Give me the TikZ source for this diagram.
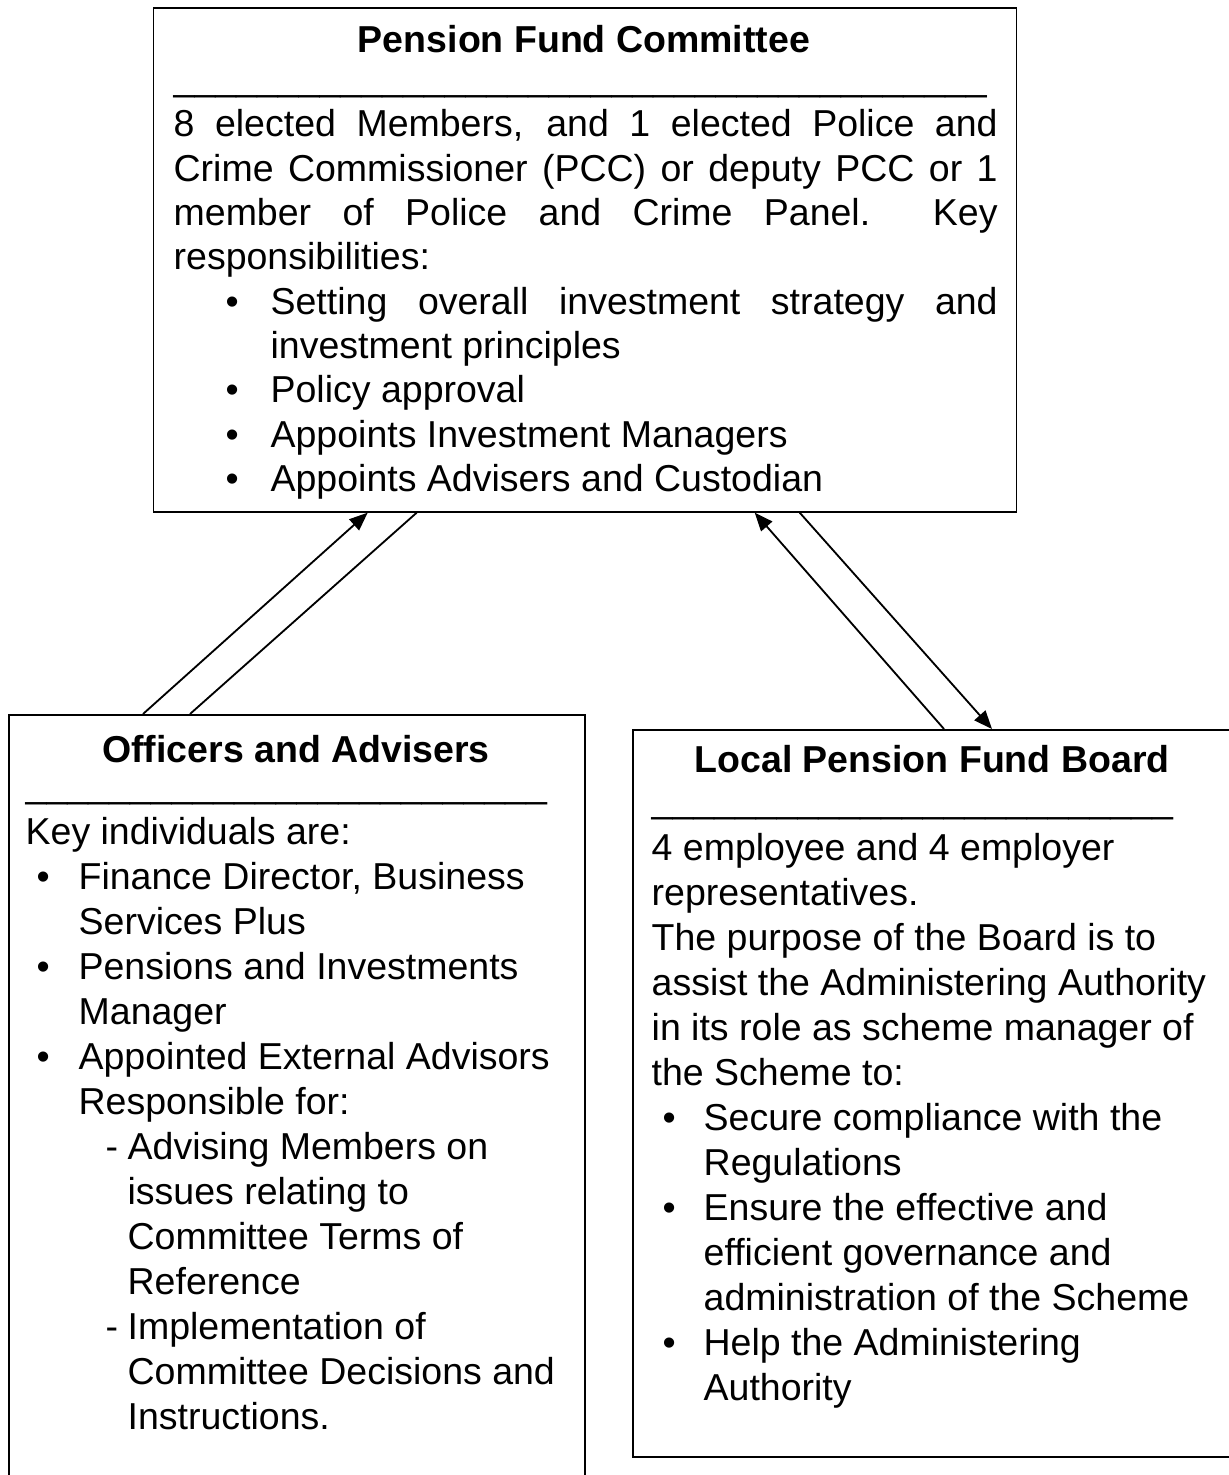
\documentclass[tikz,border=0pt]{standalone}
\usepackage{fontspec}
\setmainfont{Liberation Sans}
\usetikzlibrary{arrows.meta}
\newlength{\px}
\setlength{\px}{0.3pt}
\newcommand{\bars}[1]{\foreach \i in {1,...,#1}{\_}}
\newcommand{\blt}[2]{\hspace*{#1}\makebox[#2][l]{\textbullet}}
\newcommand{\dsh}{\hspace*{80\px}\makebox[22\px][l]{-}}
\newcommand{\fitline}[2]{\makebox[#1][s]{#2}}
\newcommand{\plainsp}{\spaceskip=0pt\xspaceskip=0pt}
\begin{document}
\begin{tikzpicture}[x=0.3pt,y=-0.3pt,
	box/.style={draw,line width=0.5pt,anchor=north west,inner sep=0pt},
	head/.style={anchor=base,inner sep=0pt,font=\fontsize{11.25}{13.5}\selectfont\bfseries},
	body/.style={anchor=base west,inner sep=0pt,align=left,font=\fontsize{11.25}{13.5}\selectfont},
	tight/.style={body,font=\fontsize{11.25}{13.3}\selectfont},
	link/.style={line width=0.55pt},
	tip/.style={-{Triangle[length=5.5pt,width=4.4pt]}}]
	\useasboundingbox (0,0) rectangle (1228,1475);
	
	\node[box,minimum width=863\px,minimum height=504\px] (pfc) at (152.7,7) {};
	\node[box,minimum width=576\px,minimum height=780\px] (oa) at (8,714) {};
	\node[box,minimum width=600\px,minimum height=727\px] (lpfb) at (632,729) {};
	
	\node[head] (pfct) at (584,53) {Pension Fund Committee};
	\node[body] (pfcu) at (173,91) {\bars{39}};
	\node[tight,text width=840\px] (pfcb) at (173,137) {\plainsp
		\fitline{824\px}{8 elected Members, and 1 elected Police and}\\
		\fitline{824\px}{Crime Commissioner (PCC) or deputy PCC or 1}\\
		\fitline{824\px}{member of Police and Crime Panel.\ \ Key}\\
		responsibilities:\\
		\blt{52\px}{45\px}\fitline{727\px}{Setting overall investment strategy and}\\
		\hspace*{97\px}investment principles\\
		\blt{52\px}{45\px}Policy approval\\
		\blt{52\px}{45\px}Appoints Investment Managers\\
		\blt{52\px}{45\px}Appoints Advisers and Custodian};
	
	\node[head] (oat) at (296,762) {Officers and Advisers};
	\node[body] (oau) at (25,797) {\bars{25}};
	\node[body,text width=560\px] (oab) at (25,844) {\plainsp
		Key individuals are:\\
		\blt{11\px}{42\px}Finance Director, Business\\
		\hspace*{53\px}Services Plus\\
		\blt{11\px}{42\px}Pensions and Investments\\
		\hspace*{53\px}Manager\\
		\blt{11\px}{42\px}Appointed External Advisors\\
		\hspace*{53\px}Responsible for:\\
		\dsh Advising Members on\\
		\hspace*{102\px}issues relating to\\
		\hspace*{102\px}Committee Terms of\\
		\hspace*{102\px}Reference\\
		\dsh Implementation of\\
		\hspace*{102\px}Committee Decisions and\\
		\hspace*{102\px}Instructions.};
	
	\node[head] (lpfbt) at (932,772) {Local Pension Fund Board};
	\node[body] (lpfbu) at (651,812) {\bars{25}};
	\node[body,text width=570\px] (lpfbb) at (651,860) {\plainsp
		4 employee and 4 employer\\
		representatives.\\
		The purpose of the Board is to\\
		assist the Administering Authority\\
		in its role as scheme manager of\\
		the Scheme to:\\
		\blt{11\px}{41\px}Secure compliance with the\\
		\hspace*{52\px}Regulations\\
		\blt{11\px}{41\px}Ensure the effective and\\
		\hspace*{52\px}efficient governance and\\
		\hspace*{52\px}administration of the Scheme\\
		\blt{11\px}{41\px}Help the Administering\\
		\hspace*{52\px}Authority};
	
	\path (pfc.south west) ++(215,0) coordinate (pfcA) ++(49,0) coordinate (pfcB)
		++(338,0) coordinate (pfcC) ++(45,0) coordinate (pfcD);
	\path (oa.north west) ++(135,0) coordinate (oaA) ++(47,0) coordinate (oaB);
	\path (lpfb.north west) ++(312,0) coordinate (lpfbA) ++(48,0) coordinate (lpfbB);
	
	\draw[link,tip] (oaA) -- (pfcA);
	\draw[link] (pfcB) -- (oaB);
	\draw[link,tip] (lpfbA) -- (pfcC);
	\draw[link,tip] (pfcD) -- (lpfbB);
\end{tikzpicture}
\end{document}
